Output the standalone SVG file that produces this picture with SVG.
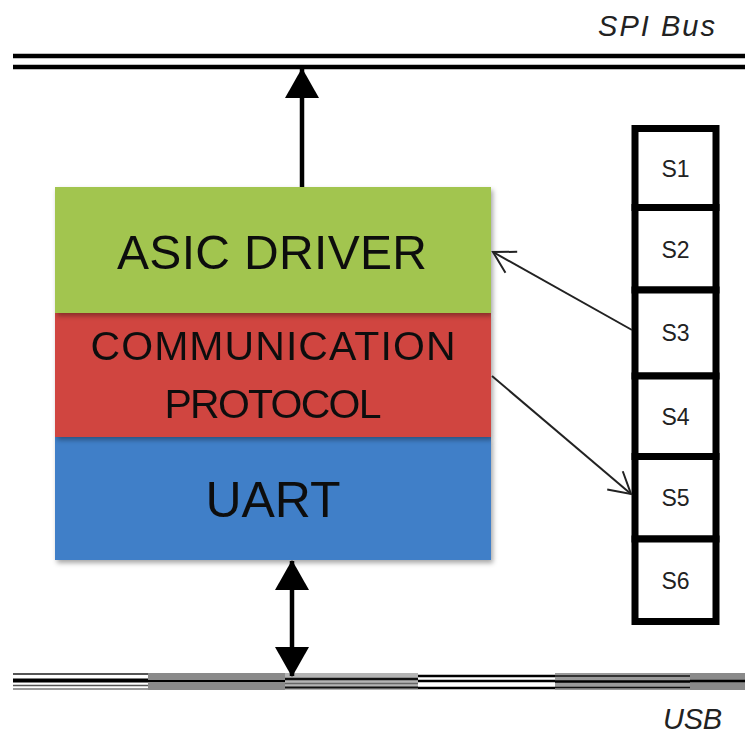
<svg xmlns="http://www.w3.org/2000/svg" width="745" height="735" viewBox="0 0 745 735">
<style>
  .layer-text { font-family: "Liberation Sans", Arial, sans-serif; fill: #111; text-anchor: middle; }
  .cell { fill: #fff; stroke: #000; stroke-width: 7; }
  .cell-text { font-family: "Liberation Sans", Arial, sans-serif; font-size: 23px; fill: #222; text-anchor: middle; }
  .bus-label { font-family: "Liberation Sans", Arial, sans-serif; font-style: italic; font-size: 29px; fill: #222; text-anchor: end; }
  .thick { stroke: #000; stroke-width: 4.5; fill: none; }
  .thin { stroke: #222; stroke-width: 2; fill: none; }
</style>
<defs>
  <filter id="shadow" x="-5%" y="-10%" width="112%" height="130%">
    <feDropShadow dx="2" dy="3" stdDeviation="2.5" flood-color="#000" flood-opacity="0.35"/>
  </filter>
  <marker id="solid" markerUnits="userSpaceOnUse" markerWidth="32" markerHeight="34" viewBox="0 0 30 34" refX="29" refY="17" orient="auto-start-reverse">
    <path d="M0,0 L30,17 L0,34 Z" fill="#000"/>
  </marker>
  <marker id="open" markerUnits="userSpaceOnUse" markerWidth="28" markerHeight="28" viewBox="-2 -14 28 28" refX="22" refY="0" orient="auto">
    <path d="M1,-12 L22,0 L1,12" fill="none" stroke="#222" stroke-width="2"/>
  </marker>
</defs>
<rect width="745" height="735" fill="#fff"/>

<g id="spi-bus">
  <line x1="13" y1="56" x2="745" y2="56" stroke="#000" stroke-width="4.5"/>
  <line x1="13" y1="67" x2="745" y2="67" stroke="#000" stroke-width="4.5"/>
  <text class="bus-label" x="715" y="36" font-size="30" textLength="117">SPI Bus</text>
</g>

<g id="usb-bus">
  <line x1="13" y1="674" x2="148" y2="674" stroke="#555" stroke-width="2"/>
  <line x1="13" y1="680.5" x2="148" y2="680.5" stroke="#000" stroke-width="4"/>
  <line x1="13" y1="685.5" x2="148" y2="685.5" stroke="#555" stroke-width="1.5"/>
  <line x1="13" y1="689" x2="148" y2="689" stroke="#999" stroke-width="2"/>
  <rect x="148" y="673" width="137" height="17" fill="#8a8a8a"/>
  <line x1="148" y1="681" x2="285" y2="681" stroke="#000" stroke-width="2"/>
  <rect x="285" y="673" width="133" height="17" fill="#b4b4b4"/>
  <line x1="285" y1="679" x2="418" y2="679" stroke="#111" stroke-width="2.5"/>
  <line x1="285" y1="683.5" x2="418" y2="683.5" stroke="#666" stroke-width="1.5"/>
  <line x1="285" y1="687.5" x2="418" y2="687.5" stroke="#111" stroke-width="2"/>
  <line x1="418" y1="676" x2="555" y2="676" stroke="#000" stroke-width="2.5"/>
  <line x1="418" y1="681" x2="555" y2="681" stroke="#000" stroke-width="2.5"/>
  <line x1="418" y1="688" x2="555" y2="688" stroke="#000" stroke-width="2.5"/>
  <rect x="555" y="673" width="135" height="17" fill="#9a9a9a"/>
  <line x1="555" y1="676" x2="690" y2="676" stroke="#111" stroke-width="1.5"/>
  <line x1="555" y1="681.5" x2="690" y2="681.5" stroke="#000" stroke-width="2.5"/>
  <line x1="555" y1="687.5" x2="690" y2="687.5" stroke="#111" stroke-width="1.5"/>
  <rect x="690" y="673" width="55" height="17" fill="#8a8a8a"/>
  <line x1="690" y1="681" x2="745" y2="681" stroke="#000" stroke-width="2.5"/>
  <text class="bus-label" x="722" y="729" font-size="28" textLength="59">USB</text>
</g>

<g id="uart" filter="url(#shadow)">
  <rect x="55" y="437" width="436" height="123" fill="#3f7fc8"/>
  <text class="layer-text" x="273" y="517" font-size="50">UART</text>
</g>
<g id="communication-protocol" filter="url(#shadow)">
  <rect x="55" y="313" width="436" height="124" fill="#d04541"/>
  <text class="layer-text" x="273" y="360" font-size="41" textLength="365">COMMUNICATION</text>
  <text class="layer-text" x="273" y="418" font-size="41" textLength="217">PROTOCOL</text>
</g>
<g id="asic-driver" filter="url(#shadow)">
  <rect x="55" y="187" width="436" height="126" fill="#a2c54f"/>
  <text class="layer-text" x="272" y="269" font-size="48" textLength="310">ASIC DRIVER</text>
</g>

<g id="s1"><rect class="cell" x="635" y="128.5" width="81" height="79"/><text class="cell-text" x="675.5" y="177">S1</text></g>
<g id="s2"><rect class="cell" x="635" y="207.5" width="81" height="82.5"/><text class="cell-text" x="675.5" y="258">S2</text></g>
<g id="s3"><rect class="cell" x="635" y="290" width="81" height="86"/><text class="cell-text" x="675.5" y="341">S3</text></g>
<g id="s4"><rect class="cell" x="635" y="376" width="81" height="80.5"/><text class="cell-text" x="675.5" y="425">S4</text></g>
<g id="s5"><rect class="cell" x="635" y="456.5" width="81" height="82.5"/><text class="cell-text" x="675.5" y="506">S5</text></g>
<g id="s6"><rect class="cell" x="635" y="539" width="81" height="82.5"/><text class="cell-text" x="675.5" y="589">S6</text></g>

<g id="connectors">
  <line class="thick" x1="302" y1="187" x2="302" y2="69" marker-end="url(#solid)"/>
  <line class="thick" x1="292" y1="561" x2="292" y2="676" marker-start="url(#solid)" marker-end="url(#solid)"/>
  <line class="thin" x1="632" y1="330" x2="493" y2="252" marker-end="url(#open)"/>
  <line class="thin" x1="492" y1="376" x2="631" y2="494" marker-end="url(#open)"/>
</g>
</svg>
